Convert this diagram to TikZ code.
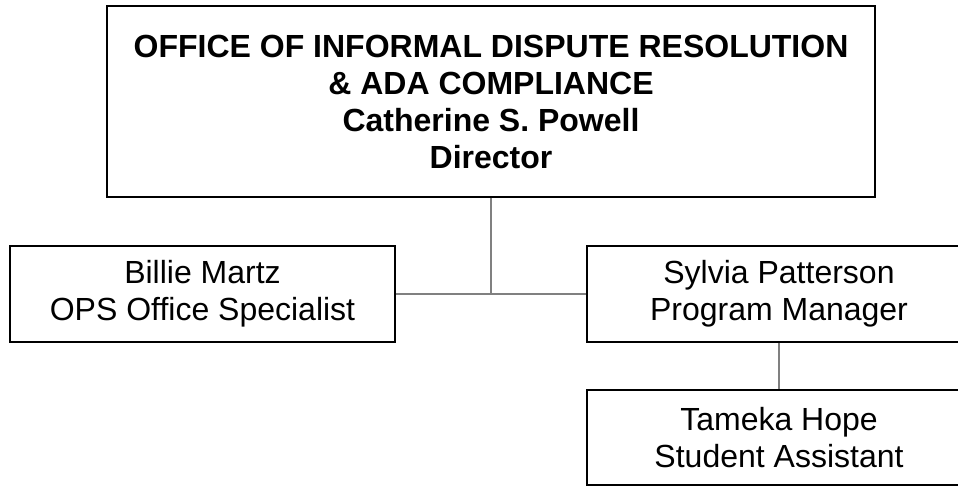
\documentclass[tikz,border=0pt]{standalone}
\usepackage{fontspec}
\setmainfont{Liberation Sans}
\begin{document}
\begin{tikzpicture}[x=1pt,y=-1pt,
  orgbox/.style={draw=black,line width=1.8pt,rectangle,inner sep=0pt,align=center,
    font=\fontsize{32}{37}\selectfont},
  link/.style={draw=black!50,line width=1.4pt}]
\useasboundingbox (0,0) rectangle (958,486);
\clip (0,0) rectangle (958,486);
\node[orgbox,minimum width=768pt,minimum height=191pt,font=\fontsize{32}{37}\selectfont\bfseries] (dir) at (491,101.5)
  {OFFICE OF INFORMAL DISPUTE RESOLUTION\\ \& ADA COMPLIANCE\\ Catherine S. Powell\\ Director};
\node[orgbox,minimum width=385pt,minimum height=96pt] (billie) at (202.5,294)
  {Billie Martz\\ OPS Office Specialist};
\node[orgbox,minimum width=384pt,minimum height=96pt] (sylvia) at (779,294)
  {Sylvia Patterson\\ Program Manager};
\node[orgbox,minimum width=384pt,minimum height=95pt] (tameka) at (779,437.5)
  {Tameka Hope\\ Student Assistant};
\coordinate (junc) at (dir.south |- billie.east);
\draw[link] (dir.south) -- (junc);
\draw[link] (billie.east) -- (sylvia.west);
\draw[link] (sylvia.south) -- (tameka.north);
\end{tikzpicture}
\end{document}
